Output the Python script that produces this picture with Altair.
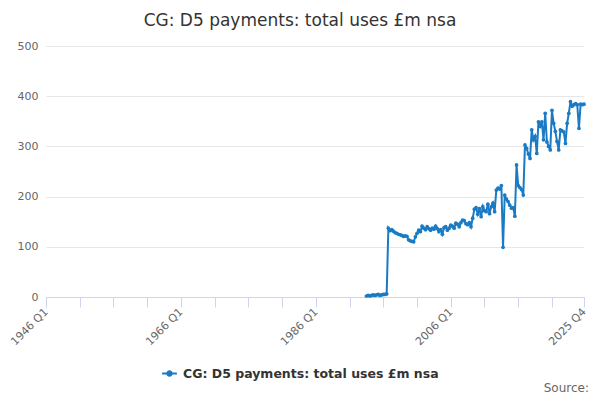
import altair as alt
import pandas as pd

# Quarterly series, first observation 1993 Q3, last 2025 Q4
start_year = 1993
start_q = 3
values = [
    2, 3, 2, 3, 4, 3, 4, 5, 3, 4, 5, 5, 6,
    137,
    132, 134, 131, 128, 127, 125, 124, 123, 121, 122, 121, 114, 112, 111, 110, 120,
    127, 133, 130, 141, 137, 134, 140, 136, 133, 137, 135, 141, 136, 130, 134, 125,
    138, 140, 133, 137, 143, 141, 137, 147, 145, 140,
    148, 153, 152, 146, 144, 148, 140, 157, 175, 178, 165, 176, 160, 180, 172, 170,
    185, 166, 180, 187, 170, 213, 217, 215, 222,
    99,
    203, 195, 190, 183, 177, 178, 161, 263, 222, 218, 214, 203, 303, 296, 285, 276,
    333, 313, 320, 286,
    349, 340, 349, 313, 366, 309, 300, 293, 372, 346, 330, 310, 293, 333, 331, 329,
    306, 346, 366, 389, 380, 383, 385, 383, 336, 384, 383, 384,
]
axis_first_year = 1946
tick_values = [0, 20, 40, 60, 80, 100, 120, 140, 160, 180, 200, 220, 240, 260, 280, 300, 319]
label_values = [0, 80, 160, 240, 319]
series_name = "CG: D5 payments: total uses £m nsa"
title_text = "CG: D5 payments: total uses £m nsa"

start_idx = (start_year - axis_first_year) * 4 + (start_q - 1)
quarters = []
for i in range(len(values)):
    k = start_idx + i
    quarters.append(f"{axis_first_year + k // 4} Q{k % 4 + 1}")

df = pd.DataFrame({
    "idx": [start_idx + i for i in range(len(values))],
    "quarter": quarters,
    "value": values,
    "series": [series_name] * len(values),
})

FONT = "DejaVu Sans"
BLUE = "#1a7bc4"

label_expr = (
    "indexof(" + str(label_values) + ", datum.value) >= 0 ? "
    "(floor(datum.value/4) + " + str(axis_first_year) + ") + ' Q' + (datum.value % 4 + 1) : ''"
)

legend_symbol = "M-1,0H1M-0.3,0a0.3,0.3 0 1,0 0.6,0a0.3,0.3 0 1,0 -0.6,0"

line = alt.Chart(df).mark_line(
    strokeWidth=2,
    point=alt.OverlayMarkDef(filled=True, size=14, color=BLUE),
).encode(
    x=alt.X(
        "idx:Q",
        scale=alt.Scale(domain=[0, 319], nice=False, zero=False),
        axis=alt.Axis(
            values=tick_values,
            labelExpr=label_expr,
            labelAngle=-45,
            labelAlign="right",
            labelBaseline="middle",
            labelFontSize=11,
            labelColor="#666666",
            labelFont=FONT,
            labelPadding=3,
            labelOverlap=False,
            labelBound=False,
            labelFlush=False,
            tickColor="#ccd6eb",
            tickSize=10,
            domainColor="#ccd6eb",
            grid=False,
            title=None,
        ),
    ),
    y=alt.Y(
        "value:Q",
        scale=alt.Scale(domain=[0, 500], nice=False),
        axis=alt.Axis(
            values=[0, 100, 200, 300, 400, 500],
            labelFontSize=11,
            labelColor="#666666",
            labelFont=FONT,
            labelPadding=8,
            gridColor="#e6e6e6",
            domain=False,
            ticks=False,
            title=None,
        ),
    ),
    color=alt.Color(
        "series:N",
        scale=alt.Scale(range=[BLUE]),
        legend=alt.Legend(
            title=None,
            orient="none",
            legendX=115,
            legendY=319,
            symbolType=legend_symbol,
            symbolSize=220,
            symbolStrokeWidth=2,
            symbolFillColor=BLUE,
            labelFont=FONT,
            labelFontSize=12.5,
            labelFontWeight="bold",
            labelColor="#333333",
            labelOffset=5,
            labelLimit=400,
        ),
    ),
)

source = alt.Chart(pd.DataFrame({"t": ["Source:"]})).mark_text(
    align="right", baseline="middle", font=FONT, fontSize=12, color="#666666"
).encode(
    text="t:N",
    x=alt.value(543),
    y=alt.value(342),
)

chart = alt.layer(line, source).properties(
    width=538,
    height=251,
    padding={"left": 38, "top": 38, "right": 8, "bottom": 100},
    autosize=alt.AutoSizeParams(type="none"),
    title=alt.TitleParams(
        title_text,
        font=FONT,
        fontSize=17,
        fontWeight="normal",
        color="#333333",
        anchor="middle",
        dx=-15,
        offset=10,
    ),
).configure_view(stroke=None)

chart.save("out.html", embed_options={"renderer": "svg", "actions": False})
